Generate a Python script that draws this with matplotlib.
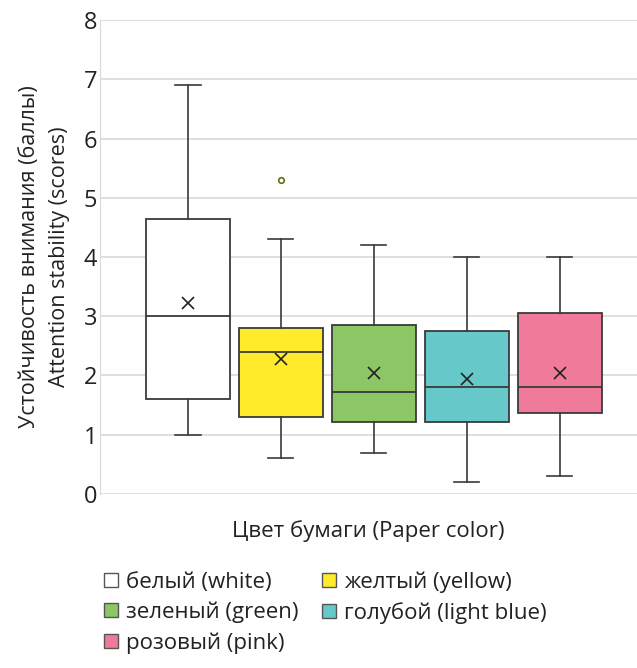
import matplotlib

matplotlib.use("Agg")
import matplotlib.pyplot as plt
from matplotlib.patches import Patch

plt.rcParams["font.family"] = ["Open Sans", "DejaVu Sans"]

# Attention stability scores by paper colour
labels = ["белый (white)", "желтый (yellow)", "зеленый (green)",
          "голубой (light blue)", "розовый (pink)"]
colors = ["#FFFFFF", "#FFEB2A", "#8CC665", "#66C8C8", "#F07A9A"]
whislo = [1.0, 0.6, 0.7, 0.2, 0.3]
q1 = [1.6, 1.3, 1.22, 1.22, 1.36]
med = [3.0, 2.4, 1.72, 1.81, 1.81]
q3 = [4.65, 2.8, 2.85, 2.75, 3.05]
whishi = [6.9, 4.3, 4.2, 4.0, 4.0]
means = [3.22, 2.28, 2.05, 1.94, 2.04]
fliers = [[], [5.3], [], [], []]

stats = []
for i in range(len(labels)):
    stats.append({
        "label": labels[i], "whislo": whislo[i], "q1": q1[i], "med": med[i],
        "q3": q3[i], "whishi": whishi[i], "mean": means[i], "fliers": fliers[i],
    })

fig = plt.figure(figsize=(6.37, 6.68), dpi=100)
ax = fig.add_axes([0.157, 0.2605, 0.843, 0.7095])

edge = "#3a3a3a"
bp = ax.bxp(
    stats, positions=range(1, 6), widths=0.91, patch_artist=True,
    showmeans=True, manage_ticks=False,
    boxprops=dict(edgecolor=edge, linewidth=1.3),
    medianprops=dict(color=edge, linewidth=1.3),
    whiskerprops=dict(color=edge, linewidth=1.2),
    capprops=dict(color=edge, linewidth=1.2),
    capwidths=0.27,
    meanprops=dict(marker="x", markeredgecolor="#222222", markersize=8,
                   markeredgewidth=1.2),
    flierprops=dict(marker="o", markerfacecolor="none",
                    markeredgecolor="#6b6b1a", markersize=4,
                    markeredgewidth=1.2),
)
for patch, c in zip(bp["boxes"], colors):
    patch.set_facecolor(c)

ax.set_xlim(0.054, 5.83)
ax.set_ylim(0, 8)
ax.set_yticks(range(0, 9))
ax.set_xticks([])
ax.grid(axis="y", color="#d9d9d9", linewidth=1.2)
ax.set_axisbelow(True)
for s in ["top", "right", "bottom"]:
    ax.spines[s].set_visible(False)
ax.spines["left"].set_color("#d9d9d9")
ax.tick_params(axis="y", length=0, labelsize=17, pad=2, colors="#222222")

ax.set_ylabel("Устойчивость внимания (баллы)\nAttention stability (scores)",
              fontsize=15.5, color="#222222", labelpad=10, linespacing=1.55)
ax.set_xlabel("Цвет бумаги (Paper color)", fontsize=16, color="#222222",
              labelpad=19)

# legend filled row by row: two columns
order = [0, 2, 4, 1, 3]
handles = [Patch(facecolor=colors[i], edgecolor="#555555", linewidth=1.0)
           for i in order]
fig.legend(handles, [labels[i] for i in order], ncol=2, loc="upper left",
           bbox_to_anchor=(0.150, 0.158), frameon=False, fontsize=16,
           handlelength=0.6, handleheight=0.6, handletextpad=0.35,
           columnspacing=1.1, labelspacing=0.4, labelcolor="#222222",
           borderaxespad=0)

fig.savefig("out.png", dpi=100)
